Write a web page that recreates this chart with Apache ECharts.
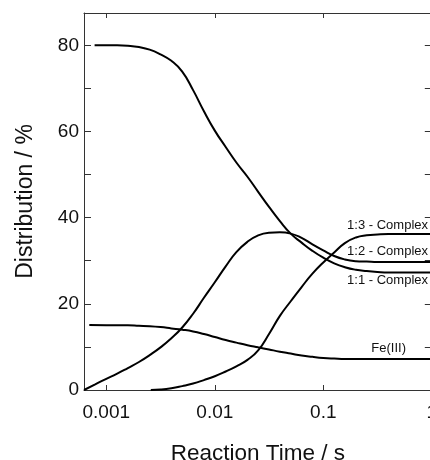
<!DOCTYPE html>
<html>
<head>
<meta charset="utf-8">
<title>Reaction Time Distribution</title>
<script src="https://cdn.jsdelivr.net/npm/echarts@6/dist/echarts.min.js"></script>
<style>
  html, body { margin: 0; padding: 0; background: #fff; overflow: hidden; }
  #chart { width: 460px; height: 460px; }
</style>
</head>
<body>
<div id="chart"></div>
<script>
// Species distribution (%) versus reaction time (s) on a logarithmic time axis.
const seriesNames = ['1:1 - Complex', '1:2 - Complex', '1:3 - Complex', 'Fe(III)'];

const time11 = [0.00078, 0.001, 0.00126, 0.00158, 0.002, 0.00251, 0.00316, 0.00398, 0.00501, 0.00631, 0.00794, 0.01, 0.0126, 0.0158, 0.02, 0.0251, 0.0316, 0.0398, 0.0501, 0.0631, 0.0794, 0.1, 0.126, 0.158, 0.2, 0.251, 0.316, 0.398, 1];
const value11 = [80.0, 80.0, 80.0, 79.9, 79.6, 79.0, 77.9, 76.4, 73.9, 69.6, 64.7, 60.2, 56.4, 52.8, 49.5, 46.0, 42.5, 39.2, 36.3, 34.2, 32.3, 30.7, 29.4, 28.5, 27.9, 27.6, 27.4, 27.3, 27.3];

const time12 = [0.000623, 0.00079, 0.001, 0.00126, 0.00158, 0.002, 0.00251, 0.00316, 0.00398, 0.00501, 0.00631, 0.00794, 0.01, 0.0126, 0.0158, 0.02, 0.0251, 0.0316, 0.0398, 0.0501, 0.0631, 0.0794, 0.1, 0.126, 0.158, 0.2, 0.251, 0.316, 1];
const value12 = [0, 1.3, 2.6, 3.8, 5.1, 6.5, 8.1, 9.9, 12.0, 14.5, 17.7, 21.4, 25.0, 28.7, 32.0, 34.4, 35.9, 36.5, 36.6, 36.3, 35.3, 33.8, 32.4, 31.1, 30.3, 29.9, 29.8, 29.7, 29.7];

const time13 = [0.00257, 0.00316, 0.00398, 0.00501, 0.00631, 0.00794, 0.01, 0.0126, 0.0158, 0.02, 0.0251, 0.0316, 0.0398, 0.0501, 0.0631, 0.0794, 0.1, 0.126, 0.158, 0.2, 0.251, 0.316, 0.398, 1];
const value13 = [0, 0.1, 0.4, 0.9, 1.5, 2.3, 3.2, 4.3, 5.5, 7.0, 9.2, 13.0, 17.2, 20.6, 23.9, 27.0, 29.6, 31.9, 34.1, 35.4, 35.9, 36.1, 36.2, 36.2];

const timeFe = [0.000697, 0.001, 0.00126, 0.00158, 0.002, 0.00251, 0.00316, 0.00398, 0.00501, 0.00631, 0.00794, 0.01, 0.0126, 0.0158, 0.02, 0.0251, 0.0316, 0.0398, 0.0501, 0.0631, 0.0794, 0.1, 0.126, 0.158, 0.2, 1];
const valueFe = [15.1, 15.05, 15.0, 15.0, 14.9, 14.8, 14.6, 14.3, 14.0, 13.6, 13.0, 12.3, 11.6, 11.0, 10.4, 9.9, 9.4, 8.9, 8.45, 8.0, 7.7, 7.45, 7.3, 7.2, 7.2, 7.2];

const xTickLabels = ['0.001', '0.01', '0.1', '1'];
const yTickLabels = ['0', '20', '40', '60', '80'];

const FONT = "'Liberation Sans', Arial, Helvetica, sans-serif";
const INK = '#111';
const AXIS = '#333';

function pairs(ts, vs) { return ts.map((t, i) => [t, vs[i]]); }

// Only decades get a label on the time axis.
function xLabel(v) {
  const lg = Math.log10(v);
  const e = Math.round(lg);
  if (Math.abs(lg - e) > 1e-6) return '';
  return xTickLabels[e + 3] || '';
}
// Every other tick (multiples of 20) gets a label on the distribution axis.
function yLabel(v) {
  if (v % 20 !== 0 || v / 20 >= yTickLabels.length) return '';
  return yTickLabels[v / 20];
}

const xCommon = {
  type: 'log', logBase: 10, min: 0.000623, max: 1,
  axisLine: { show: true, onZero: false, lineStyle: { color: AXIS, width: 1 } },
  axisTick: { show: true, inside: true, length: 5, lineStyle: { color: AXIS, width: 1 } },
  minorTick: { show: false },
  splitLine: { show: false }
};
const yCommon = {
  type: 'value', min: 0, max: 87.5, interval: 10,
  axisLine: { show: true, onZero: false, lineStyle: { color: AXIS, width: 1 } },
  axisTick: { show: true, inside: true, length: 7, lineStyle: { color: AXIS, width: 1 } },
  splitLine: { show: false }
};

function curve(name, ts, vs) {
  return {
    name, type: 'line', xAxisIndex: 0, yAxisIndex: 0,
    data: pairs(ts, vs), showSymbol: false, smooth: 0.5,
    lineStyle: { color: '#000', width: 2 }, silent: true, animation: false
  };
}

const chart = echarts.init(document.getElementById('chart'), null, { renderer: 'canvas' });
chart.setOption({
  animation: false,
  backgroundColor: '#fff',
  grid: { left: 84, top: 13, right: 28.2, bottom: 70, containLabel: false, outerBoundsMode: 'none' },
  xAxis: [
    Object.assign({}, xCommon, {
      position: 'bottom',
      name: 'Reaction Time / s', nameLocation: 'middle', nameGap: 52,
      nameTextStyle: { fontFamily: FONT, fontSize: 22.5, color: INK },
      axisLabel: { show: true, margin: 13, fontFamily: FONT, fontSize: 19, color: INK, formatter: xLabel, showMinLabel: true, showMaxLabel: true }
    }),
    Object.assign({}, xCommon, { position: 'top', axisLabel: { show: false } })
  ],
  yAxis: [
    Object.assign({}, yCommon, {
      position: 'left',
      name: 'Distribution / %', nameLocation: 'middle', nameGap: 47, nameRotate: 90,
      nameTextStyle: { fontFamily: FONT, fontSize: 23, color: INK },
      axisLabel: { show: true, margin: 5, fontFamily: FONT, fontSize: 19, color: INK, formatter: yLabel }
    }),
    Object.assign({}, yCommon, { position: 'right', axisLabel: { show: false } })
  ],
  series: [
    curve(seriesNames[0], time11, value11),
    curve(seriesNames[1], time12, value12),
    curve(seriesNames[2], time13, value13),
    curve(seriesNames[3], timeFe, valueFe)
  ],
  graphic: [
    { type: 'text', x: 428, y: 225, style: { text: seriesNames[2], fontFamily: FONT, fontSize: 13, fill: INK, align: 'right', verticalAlign: 'middle' } },
    { type: 'text', x: 428, y: 251.5, style: { text: seriesNames[1], fontFamily: FONT, fontSize: 13, fill: INK, align: 'right', verticalAlign: 'middle' } },
    { type: 'text', x: 428, y: 280.5, style: { text: seriesNames[0], fontFamily: FONT, fontSize: 13, fill: INK, align: 'right', verticalAlign: 'middle' } },
    { type: 'text', x: 406, y: 348.5, style: { text: seriesNames[3], fontFamily: FONT, fontSize: 13, fill: INK, align: 'right', verticalAlign: 'middle' } }
  ]
});
</script>
</body>
</html>
